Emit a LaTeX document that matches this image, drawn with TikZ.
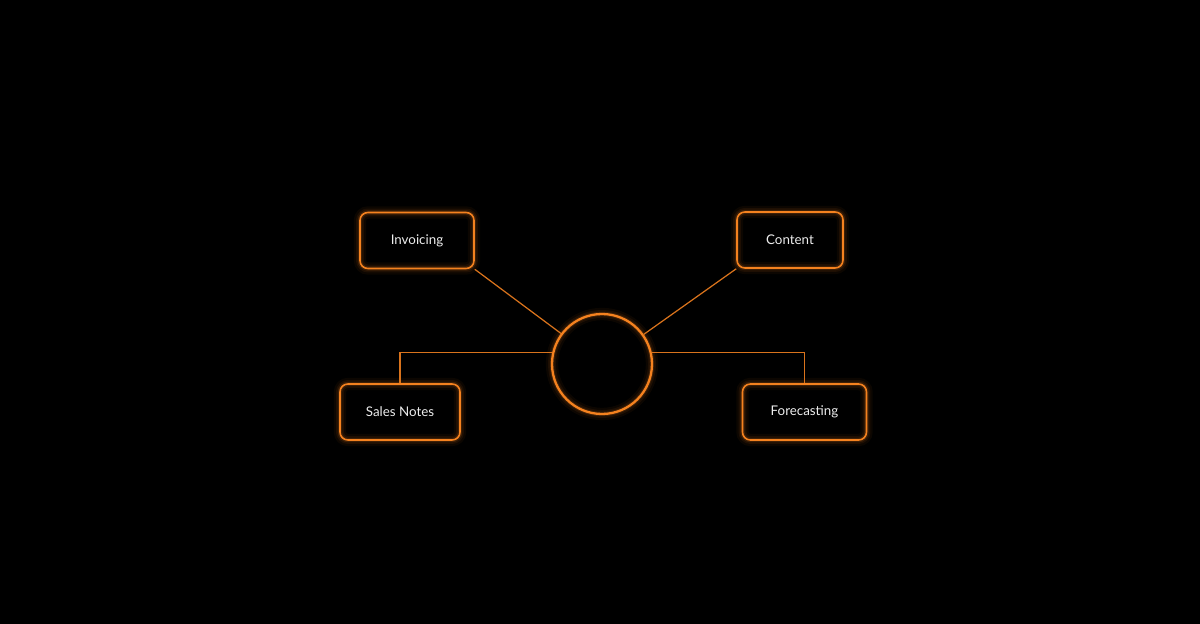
\documentclass[tikz,border=0pt]{standalone}
\usepackage{fontspec}
\setmainfont{Lato}
\usetikzlibrary{positioning}
\definecolor{glowc}{HTML}{F5821F}
\definecolor{linec}{HTML}{D9731C}
\definecolor{textc}{HTML}{EDEDED}
\tikzstyle{glow} = [preaction={draw=glowc, line width=7pt, opacity=0.05}, preaction={draw=glowc, line width=4.5pt, opacity=0.08}, preaction={draw=glowc, line width=2.5pt, opacity=0.15}]
\tikzstyle{box} = [rectangle, rounded corners=4.5pt, minimum height=1.12cm, inner xsep=0.5cm, text centered, draw=glowc, line width=0.9pt, text=textc, font=\fontsize{7.6}{9}\selectfont, glow]
\tikzstyle{hub} = [circle, minimum size=2.0cm, draw=glowc, line width=1.3pt, glow]
\tikzstyle{link} = [draw=linec, line width=0.7pt]

\begin{document}
\begin{tikzpicture}[node distance=1cm]
\fill [black] (-12.04,7.28) rectangle (11.96,-5.2);
\node (hub) [hub] {};
\node (invoicing) [box, minimum width=2.28cm, above of=hub, node distance=2.47cm, xshift=-3.7cm] {Invoicing};
\node (content) [box, minimum width=2.12cm, above of=hub, node distance=2.48cm, xshift=3.76cm] {Content};
\node (sales) [box, minimum width=2.4cm, below of=hub, node distance=0.96cm, xshift=-4.04cm] {Sales Notes};
\node (forecast) [box, minimum width=2.48cm, below of=hub, node distance=0.96cm, xshift=4.05cm] {Forecasting};
\draw [link] (invoicing.south east) -- (hub);
\draw [link] (content.south west) -- (hub);
\draw [link] (hub.167) -| (sales);
\draw [link] (hub.13) -| (forecast);
\end{tikzpicture}
\end{document}
